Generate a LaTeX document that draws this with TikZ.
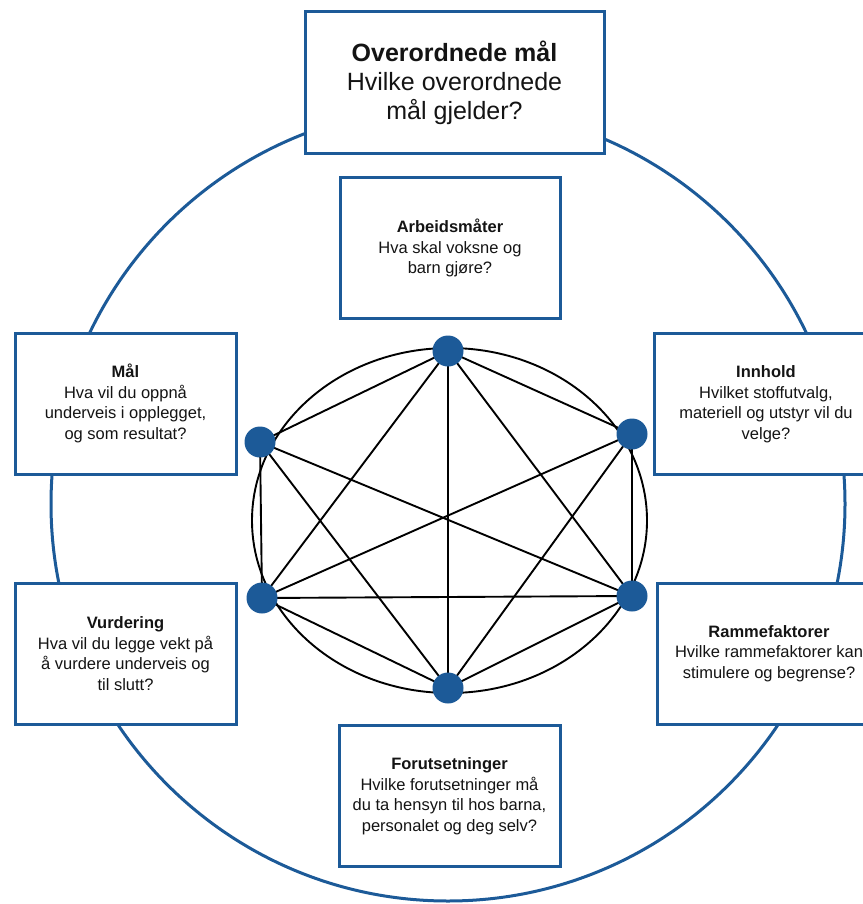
\documentclass[tikz,border=0pt]{standalone}
\usepackage{fontspec}
\setmainfont{Liberation Sans}
\usetikzlibrary{backgrounds}
\definecolor{bblue}{RGB}{28,90,152}
\definecolor{ink}{RGB}{20,20,20}
\begin{document}
\begin{tikzpicture}[x=1pt,y=-1pt,
  box/.style={draw=bblue, line width=3pt, fill=white, minimum width=221pt, minimum height=141pt,
    align=center, inner sep=0pt, text=ink, font=\fontsize{16.5}{20.5}\selectfont},
  topbox/.style={box, minimum width=299pt, minimum height=142pt, font=\fontsize{25}{29}\selectfont},
  dot/.style={circle, fill=bblue, minimum size=31pt, inner sep=0pt},
  link/.style={line width=1.9pt, black}]
\useasboundingbox (0,0) rectangle (862,904);

% boxes
\node[topbox] (top) at (454.5,83) {\textbf{Overordnede mål}\\Hvilke overordnede\\mål gjelder?};
\node[box, minimum width=220pt, minimum height=140pt] (arb) at (450,248) {\textbf{Arbeidsmåter}\\Hva skal voksne og\\barn gjøre?};
\node[box] (maal) at (125.5,403.5) {\textbf{Mål}\\Hva vil du oppnå\\underveis i opplegget,\\og som resultat?};
\node[box, minimum width=224pt] (inn) at (766,404) {\textbf{Innhold}\\Hvilket stoffutvalg,\\materiell og utstyr vil du\\velge?};
\node[box] (vur) at (125.5,653.5) {\textbf{Vurdering}\\Hva vil du legge vekt på\\å vurdere underveis og\\til slutt?};
\node[box, minimum width=224pt] (ramme) at (769,653.5) {\textbf{Rammefaktorer}\\Hvilke rammefaktorer kan\\stimulere og begrense?};
\node[box] (foru) at (449.5,796) {\textbf{Forutsetninger}\\Hvilke forutsetninger må\\du ta hensyn til hos barna,\\personalet og deg selv?};

% dots
\node[dot] (d1) at (448,351) {};
\node[dot] (d2) at (632,434) {};
\node[dot] (d3) at (632,596) {};
\node[dot] (d4) at (448,688) {};
\node[dot] (d5) at (262,598) {};
\node[dot] (d6) at (260,442) {};

\begin{pgfonlayer}{background}
  \draw[bblue, line width=3pt] (448,504) circle [radius=397pt];
  \draw[link] (449.5,520.5) ellipse [x radius=197.5pt, y radius=172.5pt];
  \draw[link] (d1.center) -- (d2.center);
  \draw[link] (d1.center) -- (d3.center);
  \draw[link] (d1.center) -- (d4.center);
  \draw[link] (d1.center) -- (d5.center);
  \draw[link] (d1.center) -- (d6.center);
  \draw[link] (d6.center) -- (d5.center);
  \draw[link] (d6.center) -- (d3.center);
  \draw[link] (d6.center) -- (d4.center);
  \draw[link] (d2.center) -- (d3.center);
  \draw[link] (d2.center) -- (d5.center);
  \draw[link] (d2.center) -- (d4.center);
  \draw[link] (d5.center) -- (d3.center);
  \draw[link] (d5.center) -- (d4.center);
  \draw[link] (d3.center) -- (d4.center);
\end{pgfonlayer}
\end{tikzpicture}
\end{document}
